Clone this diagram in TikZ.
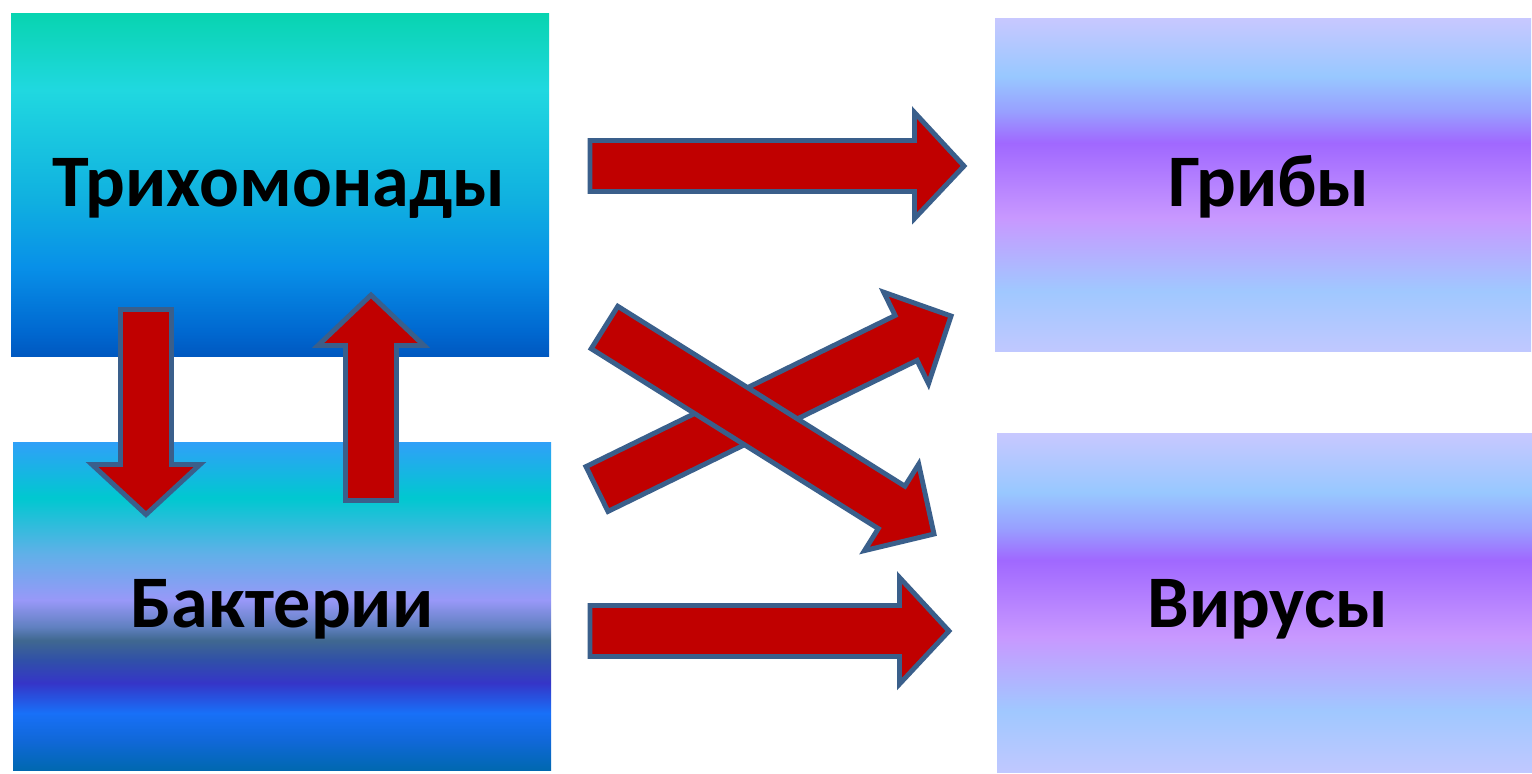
\documentclass[tikz,border=0pt]{standalone}
\usepackage{fontspec}
\setmainfont{Carlito}
\definecolor{arrfill}{HTML}{C00000}
\definecolor{arrline}{HTML}{3A5F8B}
\definecolor{tA}{HTML}{0058C0}\definecolor{tB}{HTML}{0068D0}\definecolor{tC}{HTML}{0890E8}
\definecolor{tD}{HTML}{10B0E0}\definecolor{tE}{HTML}{20D8E0}\definecolor{tF}{HTML}{08D4B0}
\definecolor{bA}{HTML}{0068B0}\definecolor{bB}{HTML}{1068D8}\definecolor{bC}{HTML}{1870F8}
\definecolor{bD}{HTML}{3535C8}\definecolor{bE}{HTML}{3050A8}\definecolor{bF}{HTML}{406890}
\definecolor{bG}{HTML}{6080C0}\definecolor{bH}{HTML}{9898F8}\definecolor{bI}{HTML}{60B0E8}
\definecolor{bJ}{HTML}{00C8D0}\definecolor{bK}{HTML}{30A0F8}
\definecolor{pA}{HTML}{C0C8FF}\definecolor{pB}{HTML}{A0C8FF}\definecolor{pC}{HTML}{C898FF}
\definecolor{pD}{HTML}{A068FF}\definecolor{pE}{HTML}{98A0FF}\definecolor{pF}{HTML}{98C8FF}
\definecolor{pG}{HTML}{C8C8FF}
\pgfdeclareverticalshading{trichshade}{100bp}{color(0bp)=(tA); color(25bp)=(tA); color(28.5bp)=(tB); color(38bp)=(tC); color(47.75bp)=(tD); color(63.8bp)=(tE); color(75bp)=(tF); color(100bp)=(tF)}
\pgfdeclareverticalshading{baktshade}{100bp}{color(0bp)=(bA); color(25bp)=(bA); color(29.5bp)=(bB); color(33.7bp)=(bC); color(38.25bp)=(bD); color(41.75bp)=(bE); color(44.8bp)=(bF); color(46.8bp)=(bG); color(50.9bp)=(bH); color(58bp)=(bI); color(66.5bp)=(bJ); color(75bp)=(bK); color(100bp)=(bK)}
\pgfdeclareverticalshading{purpshade}{100bp}{color(0bp)=(pA); color(25bp)=(pA); color(34bp)=(pB); color(45bp)=(pC); color(56.25bp)=(pD); color(61bp)=(pE); color(66.3bp)=(pF); color(75bp)=(pG); color(100bp)=(pG)}
\tikzset{
  boxtext/.style={font=\bfseries\fontsize{42.2}{48}\selectfont, text=black, inner sep=0pt, anchor=base},
  bigarrow/.style={fill=arrfill, draw=arrline, line width=2.8pt, line join=miter}
}
\begin{document}
\begin{tikzpicture}[x=0.02cm,y=-0.02cm]
\useasboundingbox[fill=white] (0,0) rectangle (1532,774);
% boxes
\shade[shading=trichshade] (11,13) rectangle (549,356);
\shade[shading=baktshade] (13,442) rectangle (551,770);
\shade[shading=purpshade] (995,18) rectangle (1531,351);
\shade[shading=purpshade] (997,433) rectangle (1532,772);
\coordinate (trichc) at (279,206);
\coordinate (baktc) at (282,627);
\coordinate (gribc) at (1269,206);
\coordinate (virc) at (1268,627);
\node[boxtext] (trich) at (trichc) {Трихомонады};
\node[boxtext] (bakt) at (baktc) {Бактерии};
\node[boxtext] (grib) at (gribc) {Грибы};
\node[boxtext] (vir) at (virc) {Вирусы};
% vertical arrows
\draw[bigarrow] (120.5,309.5) -- (171.5,309.5) -- (171.5,464.5) -- (200,464.5) -- (146,514.5) -- (92,464.5) -- (120.5,464.5) -- cycle;
\draw[bigarrow] (345.5,500.5) -- (396.5,500.5) -- (396.5,345.5) -- (424,345.5) -- (371,295) -- (318,345.5) -- (345.5,345.5) -- cycle;
% horizontal arrows
\draw[bigarrow] (590,140.5) -- (914.5,140.5) -- (914.5,112.5) -- (964,166) -- (914.5,218.5) -- (914.5,191.5) -- (590,191.5) -- cycle;
\draw[bigarrow] (590,605.5) -- (899.5,605.5) -- (899.5,577.5) -- (949,631) -- (899.5,684) -- (899.5,656.5) -- (590,656.5) -- cycle;
% diagonal arrows
\draw[bigarrow] (586.0,466.6) -- (895.1,315.5) -- (883.7,292.2) -- (951,316) -- (928.5,383.7) -- (917.1,360.4) -- (608.0,511.4) -- cycle;
\draw[bigarrow] (617.8,306.3) -- (904.9,486.2) -- (918.7,464.2) -- (934,534) -- (864.5,550.6) -- (878.3,528.6) -- (591.2,348.7) -- cycle;
\end{tikzpicture}
\end{document}
